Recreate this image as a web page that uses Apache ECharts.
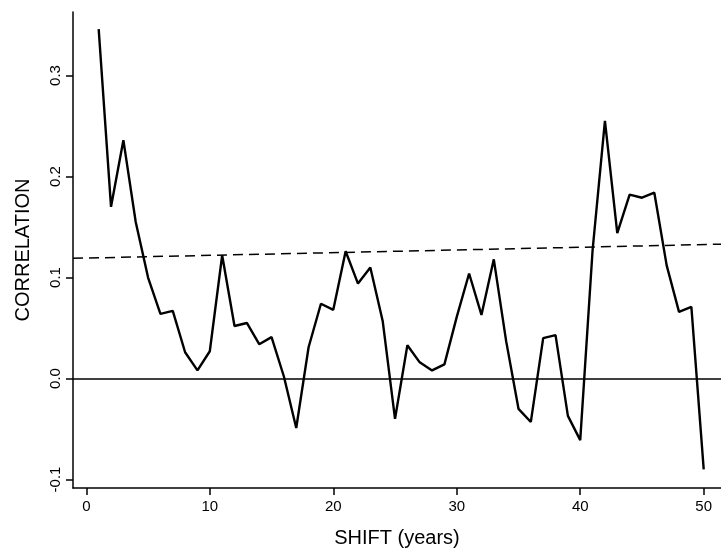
<!DOCTYPE html>
<html>
<head>
<meta charset="utf-8">
<script src="https://cdn.jsdelivr.net/npm/echarts@6/dist/echarts.min.js"></script>
<style>
  html, body { margin: 0; padding: 0; background: #fff; }
  #chart { width: 721px; height: 553px; }
</style>
</head>
<body>
<div id="chart"></div>
<script>
const shift = [1,2,3,4,5,6,7,8,9,10,11,12,13,14,15,16,17,18,19,20,21,22,23,24,25,26,27,28,29,30,31,32,33,34,35,36,37,38,39,40,41,42,43,44,45,46,47,48,49,50];
const correlation = [0.346,0.170,0.236,0.155,0.100,0.064,0.067,0.026,0.008,0.027,0.122,0.052,0.055,0.034,0.041,0.002,-0.049,0.031,0.074,0.068,0.126,0.094,0.110,0.057,-0.040,0.033,0.016,0.008,0.014,0.061,0.104,0.063,0.118,0.037,-0.030,-0.043,0.040,0.043,-0.037,-0.061,0.127,0.255,0.144,0.182,0.179,0.184,0.112,0.066,0.071,-0.090];
const dashedX = [-1.08, 51.4];
const dashedY = [0.119, 0.133];
const xTicks = [0,10,20,30,40,50];
const yTicks = [-0.1,0.0,0.1,0.2,0.3];
const xLabel = 'SHIFT (years)';
const yLabel = 'CORRELATION';

const font = 'Liberation Sans, Arial, Helvetica, sans-serif';
const chart = echarts.init(document.getElementById('chart'), null, {renderer: 'canvas'});
chart.setOption({
  animation: false,
  backgroundColor: '#fff',
  grid: { left: 73, right: 0, top: 12, bottom: 63, containLabel: false },
  xAxis: {
    type: 'value', min: -1.08, max: 51.4,
    name: xLabel, nameLocation: 'middle', nameGap: 40,
    nameTextStyle: { fontFamily: font, fontSize: 20, color: '#000' },
    axisLine: { show: true, onZero: false, lineStyle: { color: '#000', width: 1.5 } },
    axisTick: { show: true, inside: false, length: 7, customValues: xTicks, lineStyle: { color: '#000', width: 1.5 } },
    axisLabel: { customValues: xTicks, margin: 11, fontFamily: font, fontSize: 15, color: '#000', formatter: v => String(v) },
    splitLine: { show: false }
  },
  yAxis: {
    type: 'value', min: -0.1084, max: 0.3629,
    name: yLabel, nameLocation: 'middle', nameGap: 40, nameRotate: 90,
    nameTextStyle: { fontFamily: font, fontSize: 20, color: '#000' },
    axisLine: { show: true, onZero: false, lineStyle: { color: '#000', width: 1.5 } },
    axisTick: { show: true, inside: false, length: 7, customValues: yTicks, lineStyle: { color: '#000', width: 1.5 } },
    axisLabel: { customValues: yTicks, rotate: 90, margin: 10, fontFamily: font, fontSize: 15, color: '#000', formatter: v => v.toFixed(1) },
    splitLine: { show: false }
  },
  series: [
    {
      type: 'line',
      data: shift.map((s, i) => [s, correlation[i]]),
      showSymbol: false,
      lineStyle: { color: '#000', width: 2.4 },
      markLine: {
        silent: true, symbol: 'none',
        label: { show: false },
        lineStyle: { color: '#000', width: 1.5, type: 'solid' },
        data: [{ yAxis: 0 }]
      }
    },
    {
      type: 'line',
      data: dashedX.map((x, i) => [x, dashedY[i]]),
      showSymbol: false,
      lineStyle: { color: '#000', width: 1.5, type: [10, 6] }
    }
  ]
});
</script>
</body>
</html>
